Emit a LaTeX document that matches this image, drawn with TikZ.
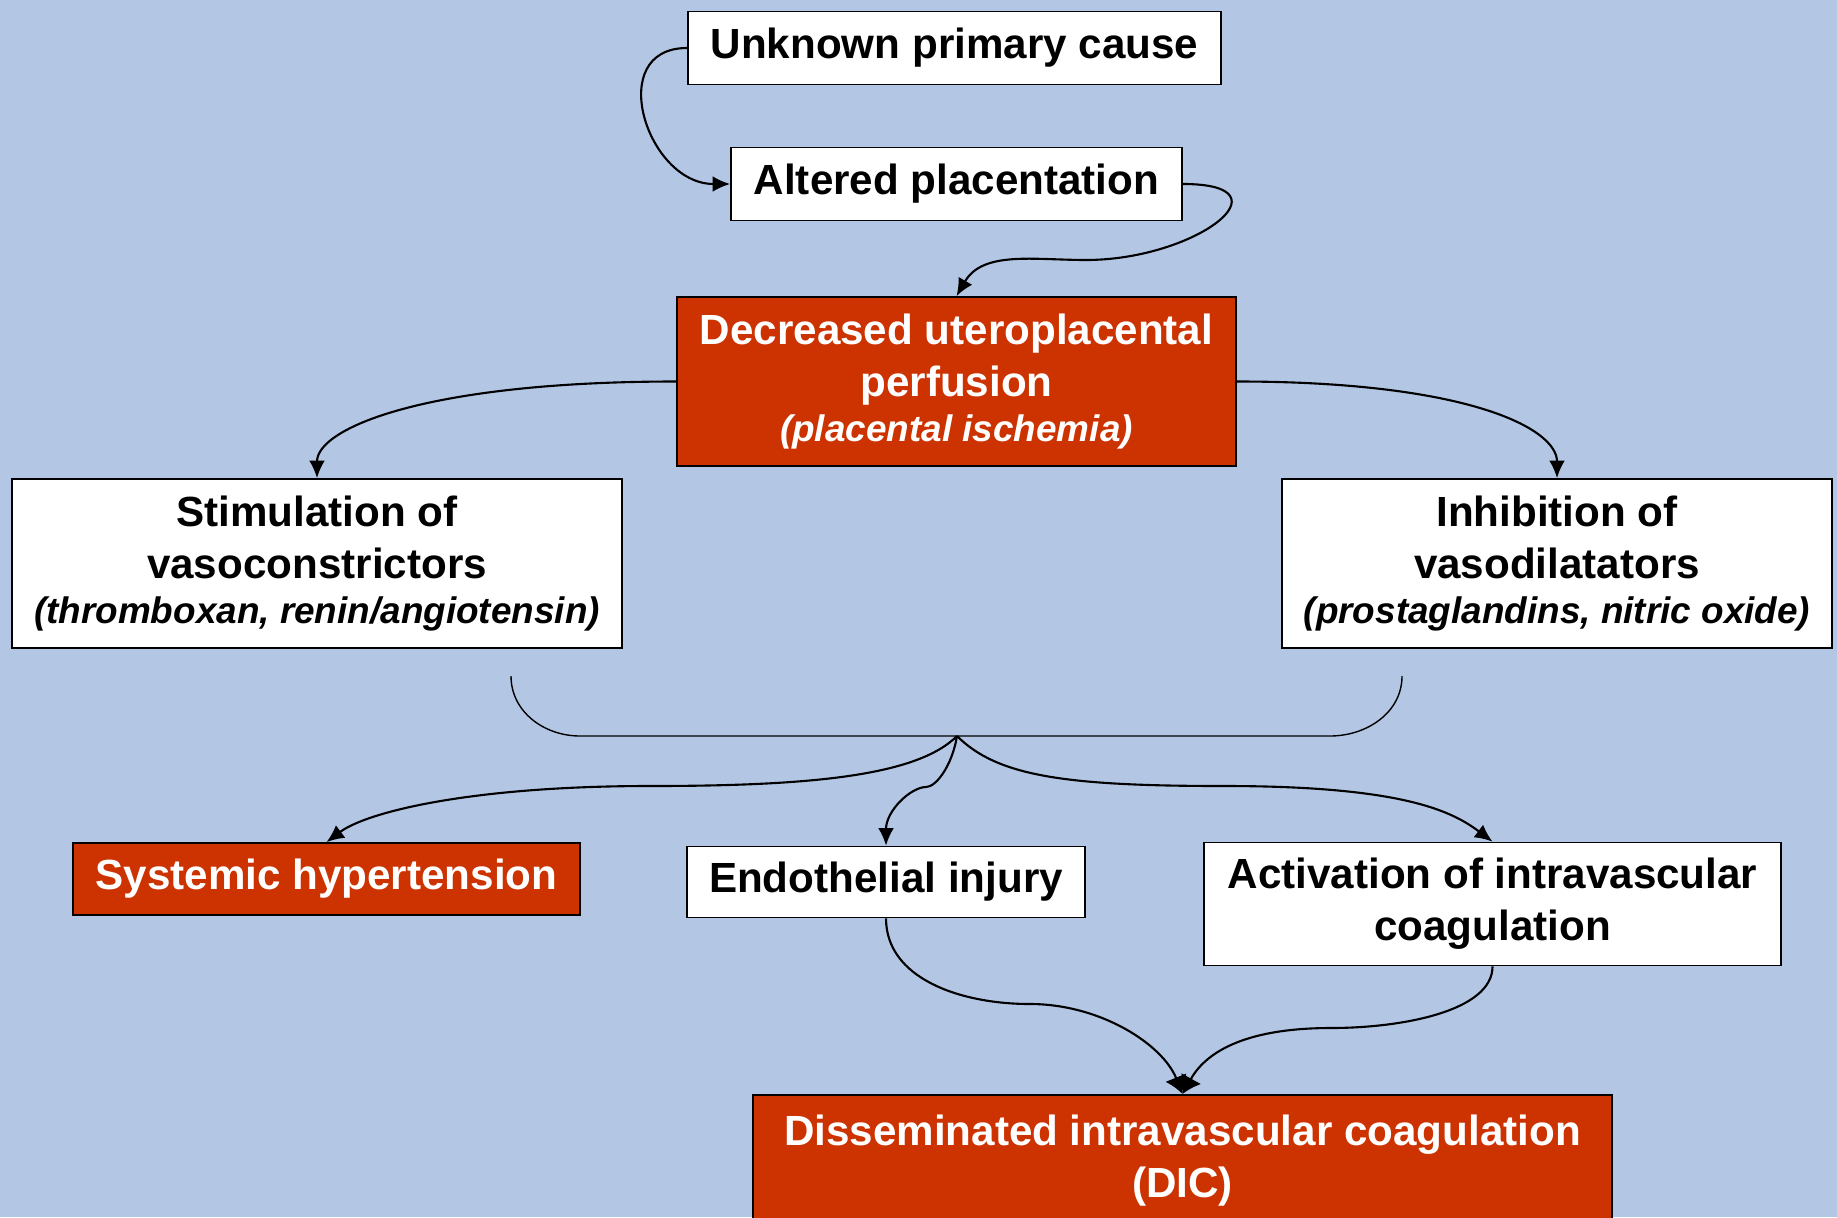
\documentclass[tikz,border=0pt]{standalone}
\usepackage{fontspec}
\setmainfont{Liberation Sans}
\usetikzlibrary{arrows.meta}

\definecolor{fondo}{RGB}{179,198,228}
\definecolor{rojo}{RGB}{204,51,0}

\tikzset{
  caja/.style={draw, fill=white, line width=0.5pt, align=center,
    font=\fontsize{12}{14.8}\selectfont\bfseries},
  cajaroja/.style={caja, fill=rojo, text=white},
  flecha/.style={->, line width=0.6pt},
  flechagrande/.style={-{Latex[length=5pt,width=6.5pt]}, line width=0.6pt},
}
\newcommand{\nota}[1]{{\fontsize{10.5}{12.5}\selectfont\itshape #1}}

\begin{document}
\begin{tikzpicture}[>={Latex[length=5pt,width=4.5pt]}]
  % Fondo
  \useasboundingbox (0,0) rectangle (18.37,12.17);
  \fill[fondo] (0,0) rectangle (18.37,12.17);

  % Cajas
  \node[caja, minimum width=5.33cm, minimum height=0.73cm] (causa) at (9.545,11.69) {Unknown primary cause};
  \node[caja, minimum width=4.51cm, minimum height=0.73cm] (placenta) at (9.565,10.33) {Altered placentation};
  \node[cajaroja, minimum width=5.59cm, minimum height=1.69cm] (perfusion) at (9.565,8.355)
    {Decreased uteroplacental\\perfusion\\[-1.8pt]\nota{(placental ischemia)}};
  \node[caja, minimum width=6.10cm, minimum height=1.69cm] (vasocon) at (3.17,6.535)
    {Stimulation of\\vasoconstrictors\\[-1.8pt]\nota{(thromboxan, renin/angiotensin)}};
  \node[caja, minimum width=5.50cm, minimum height=1.69cm] (vasodil) at (15.57,6.535)
    {Inhibition of\\vasodilatators\\[-1.8pt]\nota{(prostaglandins, nitric oxide)}};
  \node[cajaroja, minimum width=5.07cm, minimum height=0.72cm] (hipert) at (3.265,3.38) {Systemic hypertension};
  \node[caja, minimum width=3.98cm, minimum height=0.71cm] (endot) at (8.86,3.35) {Endothelial injury};
  \node[caja, minimum width=5.77cm, minimum height=1.23cm] (coag) at (14.925,3.13)
    {Activation of intravascular\\coagulation};
  \node[cajaroja, anchor=north, minimum width=8.59cm, minimum height=1.32cm] (cid) at (11.825,1.23)
    {Disseminated intravascular coagulation\\(DIC)};

  % Llave
  \coordinate (junta) at (9.57,4.81);
  \draw[line width=0.4pt] (5.11,5.41) to[out=-90,in=180] (5.80,4.81) -- (13.30,4.81)
    to[out=0,in=-90] (14.02,5.41);

  % Flechas
  \draw[flecha] (causa.west) to[out=180,in=180,looseness=1.5] (placenta.west);
  \draw[flecha] (placenta.east) to[out=0,in=0,looseness=2.3] ++(-0.97,-0.76)
    to[out=180,in=60] (perfusion.north);
  \draw[flecha] (perfusion.west) .. controls +(-2.5,0) and +(0,0.5) .. (vasocon.north);
  \draw[flecha] (perfusion.east) .. controls +(2.3,0) and +(0,0.5) .. (vasodil.north);
  \draw[flecha] (junta) .. controls +(-0.4,-0.4) and (8.1,4.31) .. (6.50,4.31)
    .. controls (4.7,4.31) and +(0.4,0.3) .. (hipert.north);
  \draw[flecha] (junta) .. controls +(-0.05,-0.3) and (9.36,4.30) .. (9.26,4.30)
    .. controls (9.11,4.30) and +(0,0.35) .. (endot.north);
  \draw[flecha] (junta) .. controls +(0.4,-0.4) and (10.64,4.31) .. (12.24,4.31)
    .. controls (14.04,4.31) and +(-0.4,0.3) .. (coag.north);
  \draw[flechagrande] (endot.south) .. controls +(0,-0.6) and (9.60,2.13) .. (10.30,2.13)
    .. controls (11.00,2.13) and +(-0.2,0.5) .. (cid.north);
  \draw[flechagrande] (coag.south) .. controls +(0,-0.45) and (14.01,1.89) .. (13.31,1.89)
    .. controls (12.51,1.89) and +(0.25,0.45) .. (cid.north);
\end{tikzpicture}
\end{document}
